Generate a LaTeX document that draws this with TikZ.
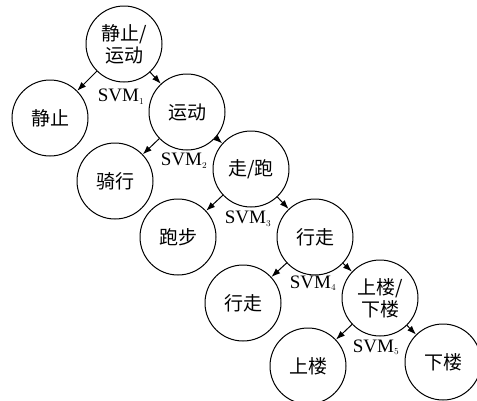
\documentclass[tikz,border=0pt]{standalone}
\usepackage{fontspec}
\setmainfont{Liberation Serif}
\newfontfamily\cjk{Noto Sans CJK SC}
\usetikzlibrary{arrows.meta}
\begin{document}
\begin{tikzpicture}[x=1pt,y=-1pt,
  st/.style={circle,draw,line width=1pt,minimum size=76pt,inner sep=0pt,align=center,
    font=\cjk\fontsize{19}{22}\selectfont},
  arr/.style={line width=1pt,-{Latex[length=9pt,width=6.5pt]}},
  lab/.style={font=\fontsize{19}{22}\selectfont,inner sep=0pt}]
\useasboundingbox (0,0) rectangle (477,400);
\node[st] (n1) at (124,44) {静止/\\运动};
\node[st] (s1) at (50,118) {静止};
\node[st] (n2) at (187,112) {运动};
\node[st] (s2) at (115,181) {骑行};
\node[st] (n3) at (251,169) {走/跑};
\node[st] (s3) at (178,237) {跑步};
\node[st] (n4) at (315,237) {行走};
\node[st] (s4) at (243,303) {行走};
\node[st] (n5) at (380,298) {上楼/\\下楼};
\node[st] (s5) at (308,366) {上楼};
\node[st] (s6) at (443,362) {下楼};
\draw[arr] (n1) -- (s1);
\draw[arr] (n1) -- (n2);
\draw[arr] (n2) -- (s2);
\draw[arr] (n2) -- (n3);
\draw[arr] (n3) -- (s3);
\draw[arr] (n3) -- (n4);
\draw[arr] (n4) -- (s4);
\draw[arr] (n4) -- (n5);
\draw[arr] (n5) -- (s5);
\draw[arr] (n5) -- (s6);
\node[lab] (l1) at (121,97) {SVM$_{\scriptscriptstyle 1}$};
\node[lab] (l2) at (184,161) {SVM$_{\scriptscriptstyle 2}$};
\node[lab] (l3) at (248,219) {SVM$_{\scriptscriptstyle 3}$};
\node[lab] (l4) at (313,283) {SVM$_{\scriptscriptstyle 4}$};
\node[lab] (l5) at (376,347) {SVM$_{\scriptscriptstyle 5}$};
\end{tikzpicture}
\end{document}
